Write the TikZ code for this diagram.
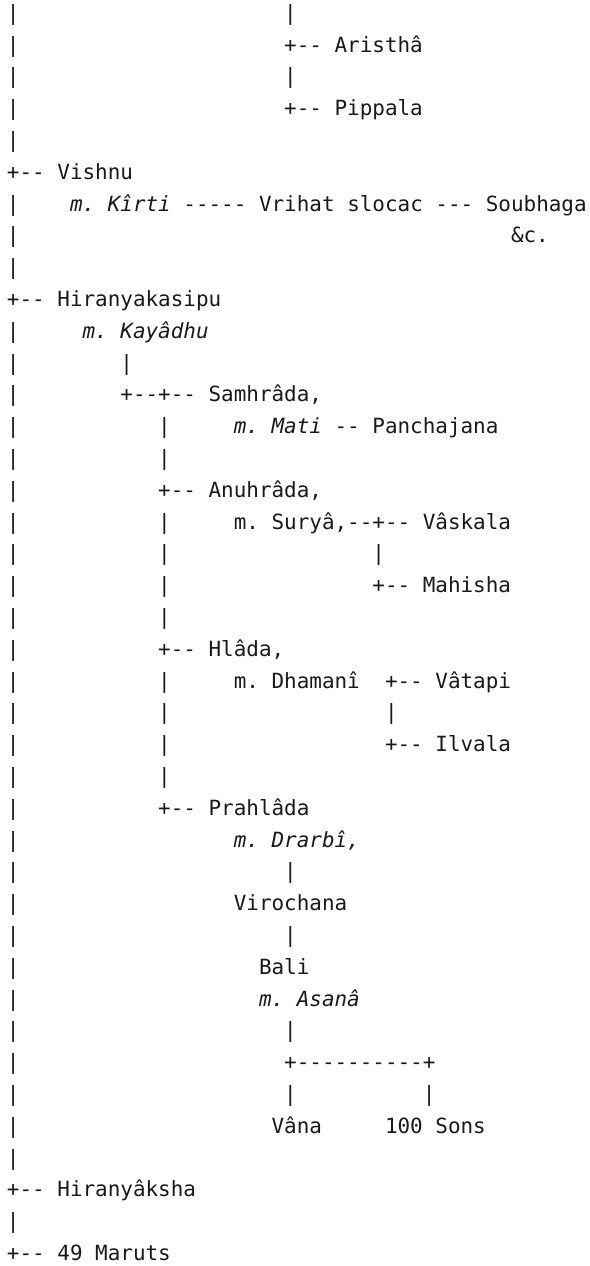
\documentclass[tikz,border=0pt]{standalone}
\usepackage{fontspec}
\setmonofont{DejaVu Sans Mono}
\begin{document}
\begin{tikzpicture}
\useasboundingbox (0pt,0pt) rectangle (441.75pt,-949.5pt);
\tikzset{asc/.style={anchor=base west, inner sep=0pt, outer sep=0pt,
  font=\ttfamily\frenchspacing\fontsize{15.7pt}{23.85pt}\selectfont, text=black!90}}
\begin{scope}[x=9.45pt, y=-23.85pt, shift={(5.25pt,8.65pt)}]
% left trunk bars
\foreach \l in {1,2,3,4,5,7,8,9,11,12,13,14,15,16,17,18,19,20,21,22,23,24,25,26,27,28,29,30,31,32,33,34,35,36,37,39}
  \node[asc] (bar\l) at (0,\l) {|};
\node[asc] (a1) at (22,1) {|};
\node[asc] (a2) at (22,2) {+-- Aristhâ};
\node[asc] (a3) at (22,3) {|};
\node[asc] (a4) at (22,4) {+-- Pippala};
\node[asc] (v6) at (0,6) {+-- Vishnu};
\node[asc] (v7) at (5,7) {{\itshape m. Kîrti} ----- Vrihat slocac --- Soubhaga};
\node[asc] (v8) at (40,8) {\&c.};
\node[asc] (h10) at (0,10) {+-- Hiranyakasipu};
\node[asc] (h11) at (6,11) {\itshape m. Kayâdhu};
\node[asc] (h12) at (9,12) {|};
\node[asc] (h13) at (9,13) {+--+-- Samhrâda,};
\node[asc] (s14a) at (12,14) {|};
\node[asc] (s14b) at (18,14) {{\itshape m. Mati} -- Panchajana};
\node[asc] (s15) at (12,15) {|};
\node[asc] (an16) at (12,16) {+-- Anuhrâda,};
\node[asc] (an17a) at (12,17) {|};
\node[asc] (an17b) at (18,17) {m. Suryâ,--+-- Vâskala};
\node[asc] (an18a) at (12,18) {|};
\node[asc] (an18b) at (29,18) {|};
\node[asc] (an19a) at (12,19) {|};
\node[asc] (an19b) at (29,19) {+-- Mahisha};
\node[asc] (s20) at (12,20) {|};
\node[asc] (hl21) at (12,21) {+-- Hlâda,};
\node[asc] (hl22a) at (12,22) {|};
\node[asc] (hl22b) at (18,22) {m. Dhamanî};
\node[asc] (hl22c) at (30,22) {+-- Vâtapi};
\node[asc] (hl23a) at (12,23) {|};
\node[asc] (hl23b) at (30,23) {|};
\node[asc] (hl24a) at (12,24) {|};
\node[asc] (hl24b) at (30,24) {+-- Ilvala};
\node[asc] (s25) at (12,25) {|};
\node[asc] (p26) at (12,26) {+-- Prahlâda};
\node[asc] (p27) at (18,27) {\itshape m. Drarbî,};
\node[asc] (p28) at (22,28) {|};
\node[asc] (p29) at (18,29) {Virochana};
\node[asc] (p30) at (22,30) {|};
\node[asc] (p31) at (20,31) {Bali};
\node[asc] (p32) at (20,32) {\itshape m. Asanâ};
\node[asc] (p33) at (22,33) {|};
\node[asc] (p34) at (22,34) {+----------+};
\node[asc] (p35a) at (22,35) {|};
\node[asc] (p35b) at (33,35) {|};
\node[asc] (p36a) at (21,36) {Vâna};
\node[asc] (p36b) at (30,36) {100 Sons};
\node[asc] (hk38) at (0,38) {+-- Hiranyâksha};
\node[asc] (m40) at (0,40) {+-- 49 Maruts};
\end{scope}
\end{tikzpicture}
\end{document}
